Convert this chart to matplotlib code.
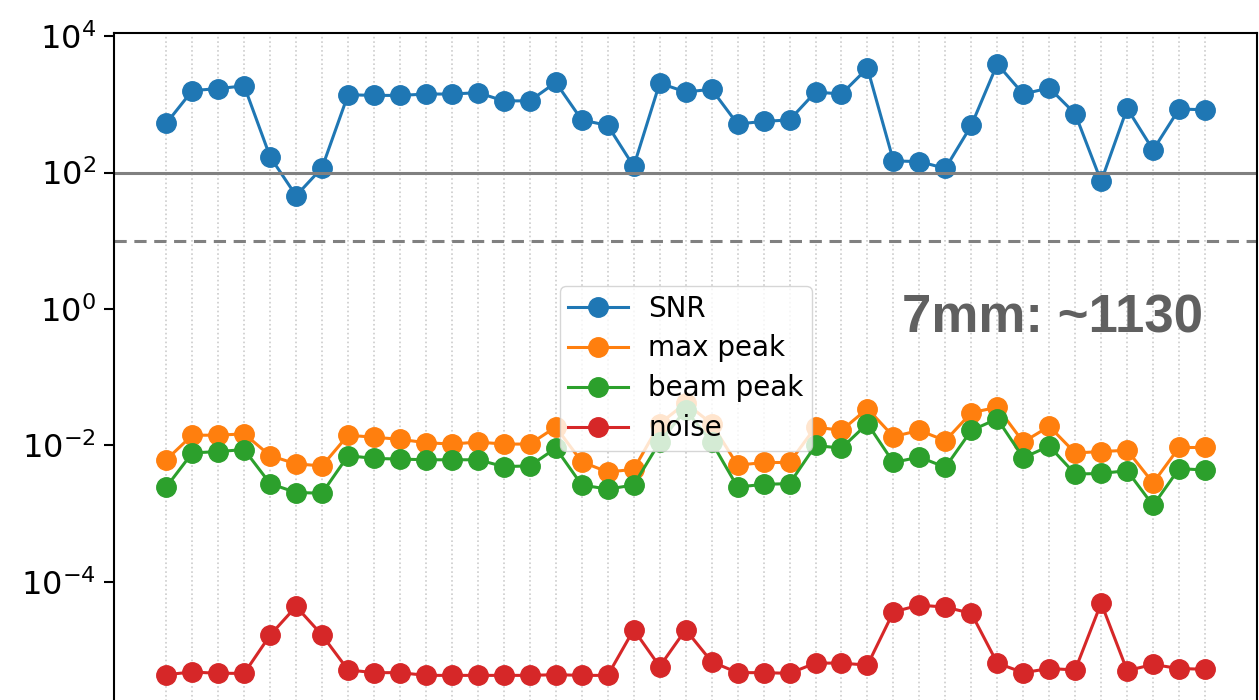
import numpy as np
import matplotlib
matplotlib.use('Agg')
import matplotlib.pyplot as plt
from matplotlib.ticker import NullLocator

# log10 值
snr_log = [2.72, 3.20, 3.23, 3.27, 2.23, 1.66, 2.07, 3.14, 3.13, 3.13,
           3.15, 3.15, 3.17, 3.05, 3.05, 3.32, 2.77, 2.69, 2.09, 3.31,
           3.18, 3.22, 2.71, 2.75, 2.77, 3.18, 3.15, 3.53, 2.17, 2.16,
           2.06, 2.69, 3.59, 3.15, 3.24, 2.86, 1.87, 2.94, 2.33, 2.93, 2.92]
max_peak_log = [-2.21, -1.85, -1.85, -1.83, -2.15, -2.27, -2.30, -1.85, -1.88, -1.91,
                -1.96, -1.98, -1.95, -1.98, -1.98, -1.73, -2.24, -2.39, -2.35, -1.68,
                -1.38, -1.68, -2.29, -2.25, -2.25, -1.73, -1.78, -1.46, -1.87, -1.78,
                -1.93, -1.52, -1.44, -1.95, -1.72, -2.11, -2.09, -2.07, -2.55, -2.03, -2.03]
beam_peak_log = [-2.61, -2.11, -2.09, -2.06, -2.56, -2.69, -2.70, -2.15, -2.19, -2.20,
                 -2.21, -2.21, -2.21, -2.31, -2.30, -2.04, -2.58, -2.64, -2.58, -1.95,
                 -1.48, -1.95, -2.61, -2.57, -2.56, -2.00, -2.04, -1.68, -2.25, -2.17,
                 -2.32, -1.78, -1.61, -2.18, -2.01, -2.42, -2.41, -2.37, -2.88, -2.34, -2.36]
noise_log = [-5.36, -5.32, -5.34, -5.34, -4.78, -4.36, -4.78, -5.29, -5.33, -5.33,
             -5.37, -5.37, -5.37, -5.37, -5.37, -5.36, -5.37, -5.37, -4.70, -5.24,
             -4.70, -5.17, -5.33, -5.33, -5.34, -5.19, -5.19, -5.22, -4.44, -4.34,
             -4.37, -4.46, -5.19, -5.33, -5.27, -5.29, -4.31, -5.30, -5.21, -5.27, -5.28]

x = np.arange(len(snr_log))
series = {
    'SNR': 10 ** np.array(snr_log),
    'max peak': 10 ** np.array(max_peak_log),
    'beam peak': 10 ** np.array(beam_peak_log),
    'noise': 10 ** np.array(noise_log),
}

fig = plt.figure(figsize=(12.59, 7.00), dpi=100)
# 原图底部被裁掉，坐标轴向下延伸出画布
ax = fig.add_axes([0.0908, -0.0857, 0.9076, 1.0381])

for name, vals in series.items():
    ax.plot(x, vals, marker='o', markersize=14, linewidth=2.2, label=name)

ax.axhline(100, color='gray', linewidth=2.2)
ax.axhline(10, color='gray', linewidth=2.2, linestyle='--', dashes=(4, 2.5))

ax.set_yscale('log')
ax.set_ylim(10 ** -6.61, 10 ** 4.04)
ax.set_xlim(-2, 42)
ax.set_yticks([1e4, 1e2, 1e0, 1e-2, 1e-4])
ax.yaxis.set_minor_locator(NullLocator())
ax.set_xticks(x)
ax.tick_params(axis='y', labelsize=23, length=7, width=1.5, pad=6)
ax.tick_params(axis='x', labelbottom=False, length=0)
ax.grid(axis='x', linestyle=':', color='0.8', linewidth=1.2)
for s in ax.spines.values():
    s.set_linewidth(1.5)

ax.legend(loc='upper left', bbox_to_anchor=(0.390, 0.652), fontsize=20,
          borderaxespad=0, handlelength=2.16, borderpad=0.3, labelspacing=0.43,
          handletextpad=0.72)

ax.text(0.953, 0.5876, '7mm: ~1130', transform=ax.transAxes, ha='right', va='baseline',
        fontsize=38, fontweight='bold', color='#606060', family='Liberation Sans')

fig.savefig('out.png', dpi=100)
